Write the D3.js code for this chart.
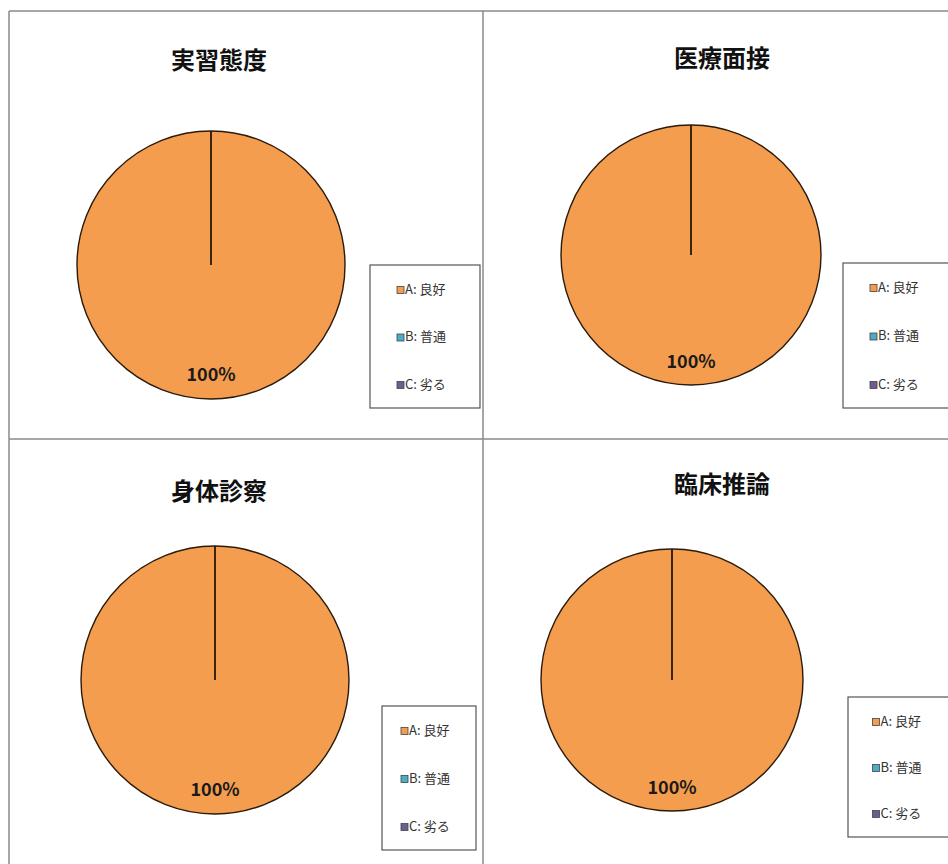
<!DOCTYPE html>
<html>
<head>
<meta charset="utf-8">
<script src="https://cdn.jsdelivr.net/npm/d3@7"></script>
<style>
  body { margin: 0; background: #fff; }
  svg { display: block; font-family: "Noto Sans CJK JP", "Noto Sans", sans-serif; }
</style>
</head>
<body>
<svg id="chart" width="948" height="864"></svg>
<script>
// data
const titles = ['実習態度', '医療面接', '身体診察', '臨床推論']
const categories = ['A: 良好', 'B: 普通', 'C: 劣る']
const values = [
  [100, 0, 0],
  [100, 0, 0],
  [100, 0, 0],
  [100, 0, 0]
]

const colors = ['#F59D4E', '#4BACC6', '#6A5F93']

// layout of each panel (pixel placement)
const panels = [
  { cx: 211, cy: 265, r: 134, tx: 219, ty: 62, lx: 370, ly: 265, lw: 110, lh: 143 },
  { cx: 691, cy: 255, r: 130, tx: 722, ty: 60, lx: 843, ly: 263, lw: 110, lh: 145 },
  { cx: 215, cy: 680, r: 134, tx: 219, ty: 493, lx: 382, ly: 706, lw: 94, lh: 144 },
  { cx: 672, cy: 680, r: 131, tx: 722, ty: 486, lx: 848, ly: 697, lw: 105, lh: 140 }
]

const $svg = d3.select('#chart')

// outer frame and dividers
const frame = $svg.append('g')
  .attr('fill', 'none')
  .attr('stroke', '#8a8a8a')
  .attr('stroke-width', 1.5)
frame.append('line').attr('x1', 9).attr('x2', 948).attr('y1', 11).attr('y2', 11)
frame.append('line').attr('x1', 9).attr('x2', 9).attr('y1', 11).attr('y2', 864)
frame.append('line').attr('x1', 9).attr('x2', 948).attr('y1', 439).attr('y2', 439)
frame.append('line').attr('x1', 483).attr('x2', 483).attr('y1', 11).attr('y2', 864)

const pie = d3.pie().sort(null)

panels.forEach((p, i) => {
  const g = $svg.append('g')

  g.append('text')
    .attr('x', p.tx)
    .attr('y', p.ty)
    .attr('text-anchor', 'middle')
    .attr('dominant-baseline', 'middle')
    .attr('font-size', 24)
    .attr('font-weight', 'bold')
    .attr('fill', '#111')
    .text(titles[i])

  const arc = d3.arc().innerRadius(0).outerRadius(p.r)
  const arcs = pie(values[i])

  const pg = g.append('g').attr('transform', `translate(${p.cx},${p.cy})`)
  // draw the empty slices last so their edge shows as the radial line
  pg.selectAll('path')
    .data(arcs.slice().sort((a, b) => b.value - a.value))
    .enter()
    .append('path')
    .attr('d', arc)
    .attr('fill', (d) => colors[d.index])
    .attr('stroke', '#2a1a0a')
    .attr('stroke-width', 1.4)

  const labelArc = d3.arc().innerRadius(p.r * 0.83).outerRadius(p.r * 0.83)
  pg.selectAll('.lbl')
    .data(arcs.filter(d => d.value > 0))
    .enter()
    .append('text')
    .attr('class', 'lbl')
    .attr('transform', d => {
      // a single full slice gets its label near the bottom, as Excel does
      const c = d.endAngle - d.startAngle >= 2 * Math.PI - 1e-6
        ? [0, p.r * 0.83]
        : labelArc.centroid(d)
      return `translate(${c})`
    })
    .attr('text-anchor', 'middle')
    .attr('dominant-baseline', 'middle')
    .attr('font-size', 18)
    .attr('font-weight', 'bold')
    .attr('fill', '#1a1a1a')
    .text(d => d3.format('.0%')(d.value / d3.sum(values[i])))

  // legend
  const lg = g.append('g').attr('transform', `translate(${p.lx},${p.ly})`)
  lg.append('rect')
    .attr('width', p.lw)
    .attr('height', p.lh)
    .attr('fill', '#fff')
    .attr('stroke', '#555')
    .attr('stroke-width', 1.2)

  const ly = d3.scalePoint()
    .domain(categories)
    .range([25, p.lh - 23])

  const item = lg.selectAll('.item')
    .data(categories)
    .enter()
    .append('g')
    .attr('class', 'item')
    .attr('transform', d => `translate(${p.lw / 2 - 28},${ly(d)})`)
  item.append('rect')
    .attr('x', 0)
    .attr('y', -3.5)
    .attr('width', 7)
    .attr('height', 7)
    .attr('fill', (d, j) => colors[j])
    .attr('stroke', '#444')
    .attr('stroke-width', 0.8)
  item.append('text')
    .attr('x', 8)
    .attr('y', 0)
    .attr('dominant-baseline', 'middle')
    .attr('font-size', 13)
    .attr('fill', '#333')
    .text(d => d)
})
</script>
</body>
</html>
